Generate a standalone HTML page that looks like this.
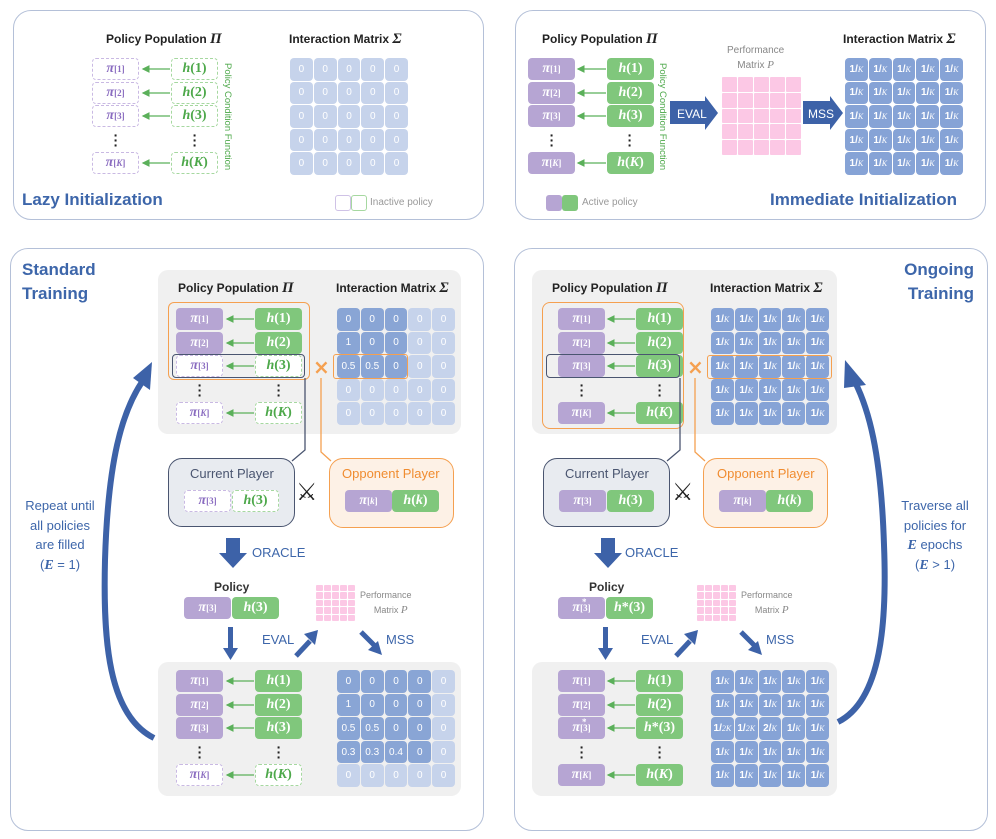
<!DOCTYPE html>
<html><head><meta charset="utf-8">
<style>
*{margin:0;padding:0;box-sizing:border-box}
body{width:996px;height:839px;background:#fff;position:relative;overflow:hidden;font-family:"Liberation Sans",sans-serif}
.a{position:absolute}
.panel{position:absolute;border:1.5px solid #b4c0d8;border-radius:18px}
.gray{position:absolute;background:#f0f0f0;border-radius:10px}
.t{position:absolute;font:bold 12px "Liberation Sans",sans-serif;color:#222;white-space:nowrap}
.t i{font:bold italic 15px "Liberation Serif",serif}
.big{position:absolute;font:bold 17px "Liberation Sans",sans-serif;color:#3d66aa;white-space:nowrap;line-height:24px}
.b{position:absolute;width:47px;height:22px;border-radius:4px;display:flex;align-items:center;justify-content:center;font:bold italic 14px "Liberation Serif",serif}
.b sub{font-size:9px;font-style:normal;vertical-align:-3px}
.b span{font-style:normal}
.pa{background:#b6a5d3;color:#fff}
.pi{background:#fff;border:1px dashed #c9b9e3;color:#8a6cc0}
.ga{background:#80c77c;color:#fff}
.gi{background:#fff;border:1px dashed #a6d8a0;color:#4da84a}
.dots{position:absolute;font:bold 14px "Liberation Sans";color:#222;line-height:5px;width:6px;text-align:center}
.m{position:absolute;width:118px;height:117px;display:grid;grid-template-columns:repeat(5,1fr);grid-template-rows:repeat(5,1fr);gap:1px}
.m div{border-radius:4px;background:#c6d3eb;color:#fff;font:10px "Liberation Sans";display:flex;align-items:center;justify-content:center}
.m div.d{background:#89a5d5}
.m div.k{background:#86a3d6;font:bold 10px "Liberation Sans"}
.k i{font:italic 8px "Liberation Serif";vertical-align:-3px}
.pk{position:absolute;display:grid;grid-template-columns:repeat(5,1fr);grid-template-rows:repeat(5,1fr);gap:1px}
.pk div{background:#fcc8e5;border-radius:1px}
.lbl{position:absolute;font:13px "Liberation Sans";color:#3d66aa}
.gt{position:absolute;font:9px "Liberation Sans";color:#888;text-align:center;line-height:15px;white-space:nowrap}
.gt i{font:italic 11px "Liberation Serif"}
.vt{position:absolute;writing-mode:vertical-rl;font:9.5px "Liberation Sans";color:#4da84a;white-space:nowrap}
.side{position:absolute;font:13px "Liberation Sans";color:#3d66aa;text-align:center;line-height:19.5px;width:110px}
.side i{font:bold italic 14px "Liberation Serif"}
.sw{position:absolute;font:24px "DejaVu Sans";color:#222}
.at{position:absolute;font:13px "Liberation Sans";color:#fff}
</style></head><body>

<!-- panels -->
<div class="panel" style="left:13px;top:10px;width:471px;height:210px"></div>
<div class="panel" style="left:515px;top:10px;width:471px;height:210px"></div>
<div class="panel" style="left:10px;top:248px;width:474px;height:583px"></div>
<div class="panel" style="left:514px;top:248px;width:474px;height:583px"></div>

<!-- TOP LEFT -->
<div class="t" style="left:106px;top:31px">Policy Population <i>Π</i></div>
<div class="t" style="left:289px;top:31px">Interaction Matrix <i>Σ</i></div>
<div class="b pi" style="left:92px;top:58px"><i>π</i><sub>[1]</sub></div>
<div class="b pi" style="left:92px;top:82px"><i>π</i><sub>[2]</sub></div>
<div class="b pi" style="left:92px;top:105px"><i>π</i><sub>[3]</sub></div>
<div class="dots" style="left:113px;top:133px">·<br>·<br>·</div>
<div class="b pi" style="left:92px;top:152px"><i>π</i><sub>[<i>K</i>]</sub></div>
<div class="b gi" style="left:171px;top:58px">h<span>(1)</span></div>
<div class="b gi" style="left:171px;top:82px">h<span>(2)</span></div>
<div class="b gi" style="left:171px;top:105px">h<span>(3)</span></div>
<div class="dots" style="left:192px;top:133px">·<br>·<br>·</div>
<div class="b gi" style="left:171px;top:152px">h<span>(</span>K<span>)</span></div>
<div class="vt" style="left:222px;top:63px">Policy Condition Function</div>
<div class="m" style="left:290px;top:58px"><div>0</div><div>0</div><div>0</div><div>0</div><div>0</div><div>0</div><div>0</div><div>0</div><div>0</div><div>0</div><div>0</div><div>0</div><div>0</div><div>0</div><div>0</div><div>0</div><div>0</div><div>0</div><div>0</div><div>0</div><div>0</div><div>0</div><div>0</div><div>0</div><div>0</div></div>
<div class="big" style="left:22px;top:188px">Lazy Initialization</div>
<div class="a" style="left:335px;top:195px;width:16px;height:16px;border:1px solid #cfc2e6;border-radius:3px"></div>
<div class="a" style="left:351px;top:195px;width:16px;height:16px;border:1px solid #a6d8a0;border-radius:3px"></div>
<div class="a" style="left:370px;top:197px;font:10px 'Liberation Sans';color:#999">Inactive policy</div>

<!-- TOP RIGHT -->
<div class="t" style="left:542px;top:31px">Policy Population <i>Π</i></div>
<div class="t" style="left:843px;top:31px">Interaction Matrix <i>Σ</i></div>
<div class="b pa" style="left:528px;top:58px"><i>π</i><sub>[1]</sub></div>
<div class="b pa" style="left:528px;top:82px"><i>π</i><sub>[2]</sub></div>
<div class="b pa" style="left:528px;top:105px"><i>π</i><sub>[3]</sub></div>
<div class="dots" style="left:549px;top:133px">·<br>·<br>·</div>
<div class="b pa" style="left:528px;top:152px"><i>π</i><sub>[<i>K</i>]</sub></div>
<div class="b ga" style="left:607px;top:58px">h<span>(1)</span></div>
<div class="b ga" style="left:607px;top:82px">h<span>(2)</span></div>
<div class="b ga" style="left:607px;top:105px">h<span>(3)</span></div>
<div class="dots" style="left:627px;top:133px">·<br>·<br>·</div>
<div class="b ga" style="left:607px;top:152px">h<span>(</span>K<span>)</span></div>
<div class="vt" style="left:657px;top:63px">Policy Condition Function</div>
<div class="gt" style="left:727px;top:43px;font-size:10px">Performance<br>Matrix <i>P</i></div>
<div class="pk" style="left:722px;top:77px;width:79px;height:78px"><div></div><div></div><div></div><div></div><div></div><div></div><div></div><div></div><div></div><div></div><div></div><div></div><div></div><div></div><div></div><div></div><div></div><div></div><div></div><div></div><div></div><div></div><div></div><div></div><div></div></div>
<div class="m" style="left:845px;top:58px">
<div class="k">1/<i>K</i></div><div class="k">1/<i>K</i></div><div class="k">1/<i>K</i></div><div class="k">1/<i>K</i></div><div class="k">1/<i>K</i></div>
<div class="k">1/<i>K</i></div><div class="k">1/<i>K</i></div><div class="k">1/<i>K</i></div><div class="k">1/<i>K</i></div><div class="k">1/<i>K</i></div>
<div class="k">1/<i>K</i></div><div class="k">1/<i>K</i></div><div class="k">1/<i>K</i></div><div class="k">1/<i>K</i></div><div class="k">1/<i>K</i></div>
<div class="k">1/<i>K</i></div><div class="k">1/<i>K</i></div><div class="k">1/<i>K</i></div><div class="k">1/<i>K</i></div><div class="k">1/<i>K</i></div>
<div class="k">1/<i>K</i></div><div class="k">1/<i>K</i></div><div class="k">1/<i>K</i></div><div class="k">1/<i>K</i></div><div class="k">1/<i>K</i></div></div>
<div class="big" style="left:770px;top:188px">Immediate Initialization</div>
<div class="a" style="left:546px;top:195px;width:16px;height:16px;background:#b6a5d3;border-radius:3px"></div>
<div class="a" style="left:562px;top:195px;width:16px;height:16px;background:#80c77c;border-radius:3px"></div>
<div class="a" style="left:582px;top:197px;font:10px 'Liberation Sans';color:#999">Active policy</div>

<!-- BOTTOM LEFT -->
<div class="big" style="left:22px;top:258px">Standard<br>Training</div>
<div class="gray" style="left:158px;top:270px;width:303px;height:164px"></div>
<div class="t" style="left:178px;top:280px">Policy Population <i>Π</i></div>
<div class="t" style="left:336px;top:280px">Interaction Matrix <i>Σ</i></div>
<div class="b pa" style="left:176px;top:308px"><i>π</i><sub>[1]</sub></div>
<div class="b pa" style="left:176px;top:332px"><i>π</i><sub>[2]</sub></div>
<div class="b pi" style="left:176px;top:355px"><i>π</i><sub>[3]</sub></div>
<div class="dots" style="left:197px;top:383px">·<br>·<br>·</div>
<div class="b pi" style="left:176px;top:402px"><i>π</i><sub>[<i>K</i>]</sub></div>
<div class="b ga" style="left:255px;top:308px">h<span>(1)</span></div>
<div class="b ga" style="left:255px;top:332px">h<span>(2)</span></div>
<div class="b gi" style="left:255px;top:355px">h<span>(3)</span></div>
<div class="dots" style="left:276px;top:383px">·<br>·<br>·</div>
<div class="b gi" style="left:255px;top:402px">h<span>(</span>K<span>)</span></div>
<div class="a" style="left:168px;top:302px;width:142px;height:78px;border:1.5px solid #f5a050;border-radius:6px"></div>
<div class="a" style="left:172px;top:354px;width:133px;height:24px;border:1.5px solid #4a5570;border-radius:4px"></div>
<div class="m" style="left:337px;top:308px">
<div class="d">0</div><div class="d">0</div><div class="d">0</div><div>0</div><div>0</div>
<div class="d">1</div><div class="d">0</div><div class="d">0</div><div>0</div><div>0</div>
<div class="d">0.5</div><div class="d">0.5</div><div class="d">0</div><div>0</div><div>0</div>
<div>0</div><div>0</div><div>0</div><div>0</div><div>0</div>
<div>0</div><div>0</div><div>0</div><div>0</div><div>0</div></div>
<div class="a" style="left:333px;top:354px;width:75px;height:25px;border:1.5px solid #f5a050;border-radius:3px"></div>
<div class="a" style="left:313px;top:355px;font:bold 20px 'DejaVu Sans';color:#f5a050">×</div>

<div class="a" style="left:168px;top:458px;width:127px;height:69px;background:#e8ebf0;border:1.5px solid #4a5570;border-radius:14px"></div>
<div class="a" style="left:190px;top:466px;font:13px 'Liberation Sans';color:#4a5570">Current Player</div>
<div class="b pi" style="left:184px;top:490px"><i>π</i><sub>[3]</sub></div>
<div class="b gi" style="left:232px;top:490px">h<span>(3)</span></div>
<div class="sw" style="left:296px;top:478px">⚔</div>
<div class="a" style="left:329px;top:458px;width:125px;height:70px;background:#fdf1e6;border:1.5px solid #f5a050;border-radius:14px"></div>
<div class="a" style="left:342px;top:466px;font:13px 'Liberation Sans';color:#f08c30">Opponent Player</div>
<div class="b pa" style="left:345px;top:490px"><i>π</i><sub>[<i>k</i>]</sub></div>
<div class="b ga" style="left:392px;top:490px">h<span>(</span>k<span>)</span></div>

<div class="lbl" style="left:252px;top:545px">ORACLE</div>
<div class="a" style="left:214px;top:580px;font:bold 12px 'Liberation Sans';color:#333">Policy</div>
<div class="b pa" style="left:184px;top:597px"><i>π</i><sub>[3]</sub></div>
<div class="b ga" style="left:232px;top:597px">h<span>(3)</span></div>
<div class="pk" style="left:316px;top:585px;width:39px;height:36px"><div></div><div></div><div></div><div></div><div></div><div></div><div></div><div></div><div></div><div></div><div></div><div></div><div></div><div></div><div></div><div></div><div></div><div></div><div></div><div></div><div></div><div></div><div></div><div></div><div></div></div>
<div class="gt" style="left:360px;top:588px">Performance<br>&nbsp;&nbsp;&nbsp;&nbsp;Matrix <i>P</i></div>
<div class="lbl" style="left:262px;top:632px">EVAL</div>
<div class="lbl" style="left:386px;top:632px">MSS</div>

<div class="gray" style="left:158px;top:662px;width:303px;height:134px"></div>
<div class="b pa" style="left:176px;top:670px"><i>π</i><sub>[1]</sub></div>
<div class="b pa" style="left:176px;top:694px"><i>π</i><sub>[2]</sub></div>
<div class="b pa" style="left:176px;top:717px"><i>π</i><sub>[3]</sub></div>
<div class="dots" style="left:197px;top:745px">·<br>·<br>·</div>
<div class="b pi" style="left:176px;top:764px"><i>π</i><sub>[<i>K</i>]</sub></div>
<div class="b ga" style="left:255px;top:670px">h<span>(1)</span></div>
<div class="b ga" style="left:255px;top:694px">h<span>(2)</span></div>
<div class="b ga" style="left:255px;top:717px">h<span>(3)</span></div>
<div class="dots" style="left:276px;top:745px">·<br>·<br>·</div>
<div class="b gi" style="left:255px;top:764px">h<span>(</span>K<span>)</span></div>
<div class="m" style="left:337px;top:670px">
<div class="d">0</div><div class="d">0</div><div class="d">0</div><div class="d">0</div><div>0</div>
<div class="d">1</div><div class="d">0</div><div class="d">0</div><div class="d">0</div><div>0</div>
<div class="d">0.5</div><div class="d">0.5</div><div class="d">0</div><div class="d">0</div><div>0</div>
<div class="d">0.3</div><div class="d">0.3</div><div class="d">0.4</div><div class="d">0</div><div>0</div>
<div>0</div><div>0</div><div>0</div><div>0</div><div>0</div></div>
<div class="side" style="left:5px;top:496px">Repeat until<br>all policies<br>are filled<br>(<i>E</i> = 1)</div>

<!-- BOTTOM RIGHT -->
<div class="big" style="left:880px;top:258px;text-align:right;width:94px">Ongoing<br>Training</div>
<div class="gray" style="left:532px;top:270px;width:305px;height:164px"></div>
<div class="t" style="left:552px;top:280px">Policy Population <i>Π</i></div>
<div class="t" style="left:710px;top:280px">Interaction Matrix <i>Σ</i></div>
<div class="b pa" style="left:558px;top:308px"><i>π</i><sub>[1]</sub></div>
<div class="b pa" style="left:558px;top:332px"><i>π</i><sub>[2]</sub></div>
<div class="b pa" style="left:558px;top:355px"><i>π</i><sub>[3]</sub></div>
<div class="dots" style="left:579px;top:383px">·<br>·<br>·</div>
<div class="b pa" style="left:558px;top:402px"><i>π</i><sub>[<i>K</i>]</sub></div>
<div class="b ga" style="left:636px;top:308px">h<span>(1)</span></div>
<div class="b ga" style="left:636px;top:332px">h<span>(2)</span></div>
<div class="b ga" style="left:636px;top:355px">h<span>(3)</span></div>
<div class="dots" style="left:657px;top:383px">·<br>·<br>·</div>
<div class="b ga" style="left:636px;top:402px">h<span>(</span>K<span>)</span></div>
<div class="a" style="left:542px;top:302px;width:142px;height:127px;border:1.5px solid #f5a050;border-radius:8px"></div>
<div class="a" style="left:546px;top:354px;width:134px;height:24px;border:1.5px solid #4a5570;border-radius:4px"></div>
<div class="m" style="left:711px;top:308px">
<div class="k">1/<i>K</i></div><div class="k">1/<i>K</i></div><div class="k">1/<i>K</i></div><div class="k">1/<i>K</i></div><div class="k">1/<i>K</i></div>
<div class="k">1/<i>K</i></div><div class="k">1/<i>K</i></div><div class="k">1/<i>K</i></div><div class="k">1/<i>K</i></div><div class="k">1/<i>K</i></div>
<div class="k">1/<i>K</i></div><div class="k">1/<i>K</i></div><div class="k">1/<i>K</i></div><div class="k">1/<i>K</i></div><div class="k">1/<i>K</i></div>
<div class="k">1/<i>K</i></div><div class="k">1/<i>K</i></div><div class="k">1/<i>K</i></div><div class="k">1/<i>K</i></div><div class="k">1/<i>K</i></div>
<div class="k">1/<i>K</i></div><div class="k">1/<i>K</i></div><div class="k">1/<i>K</i></div><div class="k">1/<i>K</i></div><div class="k">1/<i>K</i></div></div>
<div class="a" style="left:707px;top:355px;width:125px;height:24px;border:1.5px solid #f5a050;border-radius:3px"></div>
<div class="a" style="left:687px;top:355px;font:bold 20px 'DejaVu Sans';color:#f5a050">×</div>

<div class="a" style="left:543px;top:458px;width:127px;height:69px;background:#e8ebf0;border:1.5px solid #4a5570;border-radius:14px"></div>
<div class="a" style="left:565px;top:466px;font:13px 'Liberation Sans';color:#4a5570">Current Player</div>
<div class="b pa" style="left:559px;top:490px"><i>π</i><sub>[3]</sub></div>
<div class="b ga" style="left:607px;top:490px">h<span>(3)</span></div>
<div class="sw" style="left:672px;top:478px">⚔</div>
<div class="a" style="left:703px;top:458px;width:125px;height:70px;background:#fdf1e6;border:1.5px solid #f5a050;border-radius:14px"></div>
<div class="a" style="left:717px;top:466px;font:13px 'Liberation Sans';color:#f08c30">Opponent Player</div>
<div class="b pa" style="left:719px;top:490px"><i>π</i><sub>[<i>k</i>]</sub></div>
<div class="b ga" style="left:766px;top:490px">h<span>(</span>k<span>)</span></div>

<div class="lbl" style="left:625px;top:545px">ORACLE</div>
<div class="a" style="left:589px;top:580px;font:bold 12px 'Liberation Sans';color:#333">Policy</div>
<div class="b pa" style="left:558px;top:597px"><i>π</i><sub>[3]</sub><span style="position:absolute;left:24px;top:0;font-size:9px">*</span></div>
<div class="b ga" style="left:606px;top:597px">h<span>*(3)</span></div>
<div class="pk" style="left:697px;top:585px;width:39px;height:36px"><div></div><div></div><div></div><div></div><div></div><div></div><div></div><div></div><div></div><div></div><div></div><div></div><div></div><div></div><div></div><div></div><div></div><div></div><div></div><div></div><div></div><div></div><div></div><div></div><div></div></div>
<div class="gt" style="left:741px;top:588px">Performance<br>&nbsp;&nbsp;&nbsp;&nbsp;Matrix <i>P</i></div>
<div class="lbl" style="left:641px;top:632px">EVAL</div>
<div class="lbl" style="left:766px;top:632px">MSS</div>

<div class="gray" style="left:532px;top:662px;width:305px;height:134px"></div>
<div class="b pa" style="left:558px;top:670px"><i>π</i><sub>[1]</sub></div>
<div class="b pa" style="left:558px;top:694px"><i>π</i><sub>[2]</sub></div>
<div class="b pa" style="left:558px;top:717px"><i>π</i><sub>[3]</sub><span style="position:absolute;left:24px;top:0;font-size:9px">*</span></div>
<div class="dots" style="left:579px;top:745px">·<br>·<br>·</div>
<div class="b pa" style="left:558px;top:764px"><i>π</i><sub>[<i>K</i>]</sub></div>
<div class="b ga" style="left:636px;top:670px">h<span>(1)</span></div>
<div class="b ga" style="left:636px;top:694px">h<span>(2)</span></div>
<div class="b ga" style="left:636px;top:717px">h<span>*(3)</span></div>
<div class="dots" style="left:657px;top:745px">·<br>·<br>·</div>
<div class="b ga" style="left:636px;top:764px">h<span>(</span>K<span>)</span></div>
<div class="m" style="left:711px;top:670px">
<div class="k">1/<i>K</i></div><div class="k">1/<i>K</i></div><div class="k">1/<i>K</i></div><div class="k">1/<i>K</i></div><div class="k">1/<i>K</i></div>
<div class="k">1/<i>K</i></div><div class="k">1/<i>K</i></div><div class="k">1/<i>K</i></div><div class="k">1/<i>K</i></div><div class="k">1/<i>K</i></div>
<div class="k">1/<i>2K</i></div><div class="k">1/<i>2K</i></div><div class="k">2/<i>K</i></div><div class="k">1/<i>K</i></div><div class="k">1/<i>K</i></div>
<div class="k">1/<i>K</i></div><div class="k">1/<i>K</i></div><div class="k">1/<i>K</i></div><div class="k">1/<i>K</i></div><div class="k">1/<i>K</i></div>
<div class="k">1/<i>K</i></div><div class="k">1/<i>K</i></div><div class="k">1/<i>K</i></div><div class="k">1/<i>K</i></div><div class="k">1/<i>K</i></div></div>
<div class="side" style="left:880px;top:496px">Traverse all<br>policies for<br><i>E</i> epochs<br>(<i>E</i> &gt; 1)</div>

<!-- connectors -->
<svg class="a" style="left:0;top:0" width="996" height="839" viewBox="0 0 996 839">
<defs><marker id="ga" markerWidth="6" markerHeight="6" refX="5" refY="3" orient="auto"><path d="M0,0 L6,3 L0,6 Z" fill="#5bb05a"/></marker></defs>
<g stroke="#5bb05a" stroke-width="1.3" marker-end="url(#ga)">
<line x1="170" y1="69" x2="143" y2="69"/><line x1="170" y1="93" x2="143" y2="93"/><line x1="170" y1="116" x2="143" y2="116"/><line x1="170" y1="163" x2="143" y2="163"/>
<line x1="606" y1="69" x2="578" y2="69"/><line x1="606" y1="93" x2="578" y2="93"/><line x1="606" y1="116" x2="578" y2="116"/><line x1="606" y1="163" x2="578" y2="163"/>
<line x1="254" y1="319" x2="227" y2="319"/><line x1="254" y1="343" x2="227" y2="343"/><line x1="254" y1="366" x2="227" y2="366"/><line x1="254" y1="413" x2="227" y2="413"/>
<line x1="254" y1="681" x2="227" y2="681"/><line x1="254" y1="705" x2="227" y2="705"/><line x1="254" y1="728" x2="227" y2="728"/><line x1="254" y1="775" x2="227" y2="775"/>
<line x1="635" y1="319" x2="608" y2="319"/><line x1="635" y1="343" x2="608" y2="343"/><line x1="635" y1="366" x2="608" y2="366"/><line x1="635" y1="413" x2="608" y2="413"/>
<line x1="635" y1="681" x2="608" y2="681"/><line x1="635" y1="705" x2="608" y2="705"/><line x1="635" y1="728" x2="608" y2="728"/><line x1="635" y1="775" x2="608" y2="775"/>
</g>
<g fill="none" stroke-width="1.3">
<path d="M305,378 V450 L292,461" stroke="#4a5570"/>
<path d="M321,378 V452 L331,461" stroke="#f5a050"/>
<path d="M680,378 V450 L667,461" stroke="#4a5570"/>
<path d="M695,378 V452 L705,461" stroke="#f5a050"/>
</g>
<g fill="#3d62a8">
<polygon points="670,101 705,101 705,96 718,113 705,130 705,124 670,124"/>
<polygon points="803,101 830,101 830,96 843,113 830,130 830,124 803,124"/>
<polygon points="226,538 240,538 240,553 247,553 233,568 219,553 226,553"/>
<polygon points="601,538 615,538 615,553 622,553 608,568 594,553 601,553"/>
<polygon points="228,627 233,627 233,648 238,648 230.5,660 223,648 228,648"/>
<polygon points="603,627 608,627 608,648 613,648 605.5,660 598,648 603,648"/>
</g>
<g fill="#fff" font-family="Liberation Sans" font-size="12"><text x="677" y="118">EVAL</text><text x="808" y="118">MSS</text></g>
<g stroke="#3d62a8" stroke-width="5"><line x1="296" y1="656" x2="310" y2="641"/><line x1="361" y1="632" x2="374" y2="645"/>
<line x1="676" y1="656" x2="690" y2="641"/><line x1="741" y1="632" x2="754" y2="645"/></g>
<g fill="#3d62a8"><polygon points="304,634 318,630 315,645"/><polygon points="368,650 382,655 378,641"/>
<polygon points="684,634 698,630 695,645"/><polygon points="748,650 762,655 758,641"/></g>
<g fill="none" stroke="#3d62a8" stroke-width="6">
<path d="M154,738 C108,715 103,640 105,560 C108,460 122,412 142,382"/>
<path d="M838,722 C882,700 887,620 884,545 C881,450 868,408 855,382"/>
</g>
<polygon points="133,378 152,362 150,390" fill="#3d62a8"/>
<polygon points="845,360 866,385 844,388" fill="#3d62a8"/>
</svg>
</body></html>
